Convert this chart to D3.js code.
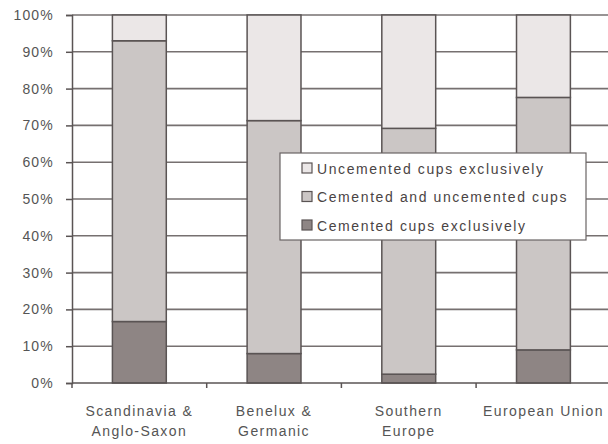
<!DOCTYPE html>
<html><head><meta charset="utf-8">
<script src="https://cdn.jsdelivr.net/npm/d3@7"></script>
<style>
html,body{margin:0;padding:0;background:#fff;}
svg{display:block;font-family:"Liberation Sans",Arial,sans-serif;}
</style></head>
<body>
<svg id="chart" width="608" height="444"></svg>
<script>
const categories = [["Scandinavia &","Anglo-Saxon"],["Benelux &","Germanic"],["Southern","Europe"],["European Union"]];
const seriesNames = ["Cemented cups exclusively","Cemented and uncemented cups","Uncemented cups exclusively"];
const cemented = [16.7, 8.0, 2.4, 9.0];
const mixed = [76.3, 63.3, 66.8, 68.6];
const uncemented = [7.0, 28.7, 30.8, 22.4];
const yTicks = [0,10,20,30,40,50,60,70,80,90,100];
const colors = ["#8e8584","#cbc6c5","#ebe7e7"];

(function(){
const svg = d3.select("#chart");
const mLeft = 72, mTop = 15, mBottom = 383, bandW = 134.7;
const x = d3.scaleBand().domain(d3.range(categories.length)).range([mLeft, mLeft + bandW*categories.length]).paddingInner(0.6).paddingOuter(0.3);
const y = d3.scaleLinear().domain([0,100]).range([mBottom, mTop]);

const data = categories.map((c,i)=>({i, v:[cemented[i], mixed[i], uncemented[i]]}));
const stack = d3.stack().keys([0,1,2]).value((d,k)=>d.v[k]);
const stacked = stack(data);

// gridlines
svg.append("g").selectAll("line").data(yTicks.filter(t=>t>0)).join("line")
  .attr("x1", mLeft).attr("x2", 608).attr("y1", d=>y(d)).attr("y2", d=>y(d))
  .attr("stroke","#767070").attr("stroke-width",1.6);

// bars
stacked.forEach((s,k)=>{
  svg.append("g").selectAll("rect").data(s).join("rect")
    .attr("x", d=>x(d.data.i)).attr("width", x.bandwidth())
    .attr("y", d=>y(d[1])).attr("height", d=>y(d[0])-y(d[1]))
    .attr("fill", colors[k]).attr("stroke","#5a5454").attr("stroke-width",1.5);
});

// y axis
const ya = svg.append("g").attr("transform",`translate(${mLeft},0)`)
  .call(d3.axisLeft(y).tickValues(yTicks).tickFormat(d=>d+"%").tickSize(6).tickPadding(12));
ya.select(".domain").attr("stroke","#5a5454").attr("stroke-width",1.5);
ya.selectAll(".tick line").attr("stroke","#5a5454").attr("stroke-width",1.5);
ya.selectAll(".tick text").attr("font-size",14).attr("letter-spacing",1.2).attr("fill","#555")
  .attr("font-family","Liberation Sans, Arial, sans-serif");

// x axis
const xb = d3.scaleLinear().domain([0,categories.length]).range([mLeft, mLeft+bandW*categories.length]);
svg.append("line").attr("x1",mLeft).attr("x2",608).attr("y1",mBottom).attr("y2",mBottom).attr("stroke","#5a5454").attr("stroke-width",1.5);
svg.append("g").selectAll("line").data(d3.range(categories.length+1)).join("line")
  .attr("x1",d=>xb(d)).attr("x2",d=>xb(d)).attr("y1",mBottom).attr("y2",mBottom+5)
  .attr("stroke","#5a5454").attr("stroke-width",1.5);
const xl = svg.append("g").selectAll("text").data(categories.map((c,i)=>({c,i}))).join("text")
  .attr("x", d=>x(d.i)+x.bandwidth()/2).attr("y", 416)
  .attr("text-anchor","middle").attr("font-size",14).attr("letter-spacing",1.4).attr("fill","#555");
xl.each(function(d){
  const t = d3.select(this);
  d.c.forEach((line,j)=>t.append("tspan").attr("x", x(d.i)+x.bandwidth()/2).attr("dy", j===0?0:20).text(line));
});

// legend
const lg = svg.append("g").attr("transform","translate(280,153)");
lg.append("rect").attr("width",306).attr("height",87).attr("fill","#fff").attr("stroke","#6a6464").attr("stroke-width",1.2);
const order = [2,1,0];
order.forEach((k,j)=>{
  const yy = 15 + j*28.5;
  lg.append("rect").attr("x",22).attr("y",yy-5).attr("width",10).attr("height",10)
    .attr("fill",colors[k]).attr("stroke","#5a5454").attr("stroke-width",1.2);
  lg.append("text").attr("x",37).attr("y",yy+5.5).attr("font-size",14).attr("letter-spacing",1.6).attr("fill","#4a4444")
    .text(seriesNames[k]);
});
})();
</script>
</body></html>
